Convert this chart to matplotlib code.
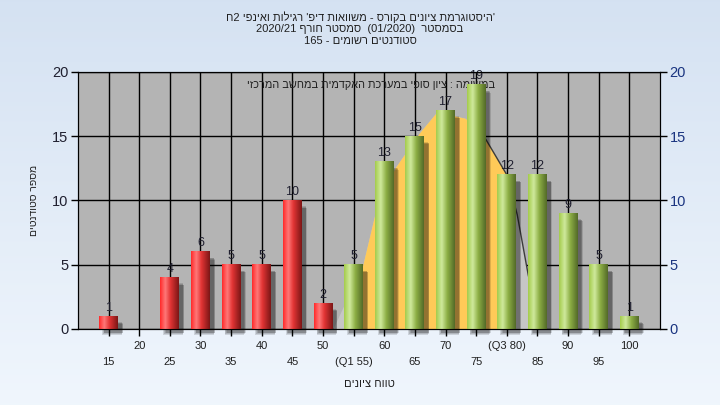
"""
Grade histogram for the course, drawn in the style of the faculty report chart.
"""

import re
import numpy as np
import matplotlib.pyplot as plt
from matplotlib.patches import Rectangle

plt.rcParams['font.family'] = ['Liberation Sans', 'DejaVu Sans']

# data
GRADES = [15, 20, 25, 30, 35, 40, 45, 50, 55, 60, 65, 70, 75, 80, 85, 90, 95, 100]
COUNTS = [1, 0, 4, 6, 5, 5, 10, 2, 5, 13, 15, 17, 19, 12, 12, 9, 5, 1]
TICK_LABELS = ['15', '20', '25', '30', '35', '40', '45', '50', '(Q1 55)', '60',
               '65', '70', '75', '(Q3 80)', '85', '90', '95', '100']
PASS_GRADE = 55
Q1 = 55
Q3 = 80

# distribution outline behind the bars (grade, students)
CURVE_X = [51.6, 56.5, 58.5, 61.7, 65.8, 68.6, 73.2, 76.4, 80.0, 81.7, 83.5, 85.5]
CURVE_Y = [0.0, 5.0, 9.0, 12.5, 15.3, 16.9, 16.4, 14.9, 12.0, 8.9, 4.2, 0.0]

# Hebrew texts as they read right-to-left in the picture
TITLE_LINES = [
    "'היסטוגרמת ציונים בקורס - משוואות דיפ' רגילות ואינפי 2ח",
    "בסמסטר  (01/2020)  סמסטר חורף 2020/21",
    "סטודנטים רשומים - 165",
]
NOTE = "במשימה : ציון סופי במערכת האקדמית במחשב המרכזי"
XLABEL = "טווח ציונים"
YLABEL = "מספר סטודנטים"


def visual(s):
    """Turn an RTL string into left-to-right glyph order for matplotlib."""
    r = s[::-1]
    r = re.sub(r'[0-9A-Za-z/.]+', lambda m: m.group(0)[::-1], r)
    return r.translate(str.maketrans('()', ')('))


def stops_to_img(stops, n=64):
    """Horizontal colour gradient from (pos, hex) stops."""
    pos = np.array([p for p, _ in stops])
    cols = np.array([[int(c[i:i + 2], 16) / 255 for i in (1, 3, 5)] for _, c in stops])
    t = np.linspace(0, 1, n)
    img = np.stack([np.interp(t, pos, cols[:, k]) for k in range(3)], axis=-1)
    return img[np.newaxis, :, :]


RED = stops_to_img([(0, '#ff2a2a'), (0.28, '#ff7878'), (0.55, '#e23434'), (1, '#7c1616')])
GREEN = stops_to_img([(0, '#a4cc4c'), (0.3, '#cfe99c'), (0.6, '#8cae44'), (1, '#536a28')])


def main():
    fig = plt.figure(figsize=(7.2, 4.05), dpi=100)

    # background gradient
    bg = fig.add_axes([0, 0, 1, 1], zorder=-10)
    grad = np.linspace(0, 1, 256)[:, None]
    top = np.array([0.835, 0.886, 0.949])
    bot = np.array([0.941, 0.965, 0.992])
    bg.imshow(top + grad[..., None] * (bot - top), aspect='auto', extent=[0, 1, 0, 1])
    bg.axis('off')

    ax = fig.add_axes([0.1083, 0.1877, 0.8083, 0.6346])
    ax.set_facecolor('#b4b4b4')
    ax.set_axisbelow(True)
    ax.grid(True, color='black', linewidth=1)

    # distribution area: light grey outside the quartiles, orange inside
    ax.fill_between(CURVE_X, CURVE_Y, 0, color='#c6c6c6', linewidth=0, zorder=1)
    inner = ax.fill_between(CURVE_X, CURVE_Y, 0, color='#ffca58', linewidth=0, zorder=1.1)
    inner.set_clip_path(Rectangle((Q1, 0), Q3 - Q1, 20, transform=ax.transData))
    edge, = ax.plot(CURVE_X, CURVE_Y, color='#3c3c3c', linewidth=1, zorder=1.2)
    edge.set_clip_path(Rectangle((74, 0), 31, 20, transform=ax.transData))

    ax.text(57.8, 19.0, visual(NOTE), ha='center', va='center', fontsize=7.8,
            color='#202020', zorder=1.3)

    w = 3.1
    for g, c in zip(GRADES, COUNTS):
        if c == 0:
            continue
        x0 = g - w / 2
        # soft shadow
        for k in range(4):
            ax.add_patch(Rectangle((x0 + 0.5 + 0.12 * k, -0.45 + 0.05 * k), w + 0.1 - 0.05 * k,
                                   c - 0.1 * k, color='black', alpha=0.13, linewidth=0,
                                   zorder=2, clip_on=False))
        img = RED if g < PASS_GRADE else GREEN
        ax.imshow(img, extent=[x0, x0 + w, 0, c], aspect='auto', zorder=3,
                  interpolation='bilinear')
        ax.text(g, c + 0.2, str(c), ha='center', va='bottom', fontsize=9,
                color='#202030', zorder=4)

    ax.set_xlim(10, 105)
    ax.set_ylim(0, 20)
    ax.set_yticks([0, 5, 10, 15, 20])
    ax.set_xticks(GRADES)
    ax.set_xticklabels([lab if i % 2 else '\n' + lab for i, lab in enumerate(TICK_LABELS)])
    for t in ax.get_xticklabels():
        t.set_linespacing(1.75)
    ax.tick_params(axis='x', direction='out', length=5, width=1, labelsize=8,
                   labelcolor='#202020', pad=4)
    ax.tick_params(axis='y', direction='out', length=5, width=1, labelsize=10.5,
                   labelcolor='#202030', pad=2)
    for s in ax.spines.values():
        s.set_color('black')

    ax2 = ax.twinx()
    ax2.set_ylim(0, 20)
    ax2.set_yticks([0, 5, 10, 15, 20])
    ax2.tick_params(axis='y', direction='out', length=5, width=1, labelsize=10.5,
                    labelcolor='#1a3480', pad=2)

    ax.set_xlabel(visual(XLABEL), fontsize=8, color='#202020', labelpad=8)
    ax.set_ylabel(visual(YLABEL), fontsize=7.5, color='#202020', labelpad=9)

    for i, line in enumerate(TITLE_LINES):
        fig.text(0.5, 1 - (17 + 12 * i) / 405, visual(line), ha='center', va='center',
                 fontsize=8, color='#202020')

    fig.savefig('out.png', dpi=100)


if __name__ == '__main__':
    main()
